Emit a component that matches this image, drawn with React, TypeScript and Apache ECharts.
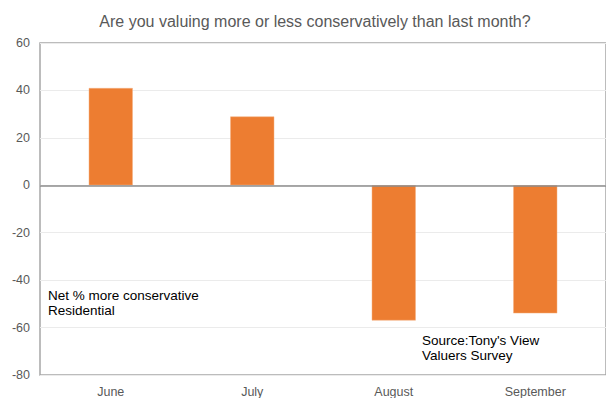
import React, { useEffect, useRef } from "react";
import * as echarts from "echarts";

const categories = ["June", "July", "August", "September"];
const netValues = [41, 29, -57, -54];
const yTicks = { min: -80, max: 60, interval: 20 };
const titleText = "Are you valuing more or less conservatively than last month?";
const noteLeft = "Net % more conservative\nResidential";
const noteSource = "Source:Tony's View\nValuers Survey";

export default function App() {
  const ref = useRef<HTMLDivElement>(null);
  useEffect(() => {
    if (!ref.current) return;
    const chart = echarts.init(ref.current, null, { renderer: "svg" });
    const font = "'Liberation Sans', Arial, sans-serif";
    chart.setOption({
      animation: false,
      backgroundColor: "#ffffff",
      textStyle: { fontFamily: font },
      title: {
        text: titleText,
        left: 310,
        textAlign: "center",
        top: 8,
        textStyle: { fontSize: 16, fontWeight: "normal", color: "#595959", fontFamily: font },
      },
      grid: {
        left: 40,
        right: -4,
        top: 43,
        bottom: 21,
        show: true,
        borderColor: "#a6a6a6",
        borderWidth: 1.5,
      },
      xAxis: {
        type: "category",
        data: categories,
        position: "bottom",
        axisLine: { show: false, onZero: false },
        axisTick: { show: false },
        axisLabel: { color: "#595959", fontSize: 12.5, margin: 10, fontFamily: font },
      },
      yAxis: {
        type: "value",
        min: yTicks.min,
        max: yTicks.max,
        interval: yTicks.interval,
        axisLine: { show: false },
        axisTick: { show: false },
        axisLabel: { color: "#595959", fontSize: 12.5, margin: 10, fontFamily: font },
        splitLine: { show: true, lineStyle: { color: "#ebebeb", width: 1 } },
      },
      series: [
        {
          type: "bar",
          data: netValues,
          barWidth: 44,
          itemStyle: { color: "#ED7D31", borderColor: "#f4b183", borderWidth: 0.5 },
          markLine: {
            silent: true,
            symbol: "none",
            label: { show: false },
            lineStyle: { color: "#8c8c8c", width: 1.5, type: "solid" },
            data: [{ yAxis: 0 }],
          },
        },
      ],
      graphic: [
        {
          type: "text",
          left: 48,
          top: 288,
          style: { text: noteLeft, lineHeight: 15, fill: "#000000", font: `13.5px ${font}` },
        },
        {
          type: "text",
          left: 422,
          top: 333,
          style: { text: noteSource, lineHeight: 15, fill: "#000000", font: `13.5px ${font}` },
        },
      ],
    });
    return () => chart.dispose();
  }, []);
  return <div ref={ref} style={{ width: 606, height: 398, position: "fixed", left: 0, top: 0 }} />;
}
